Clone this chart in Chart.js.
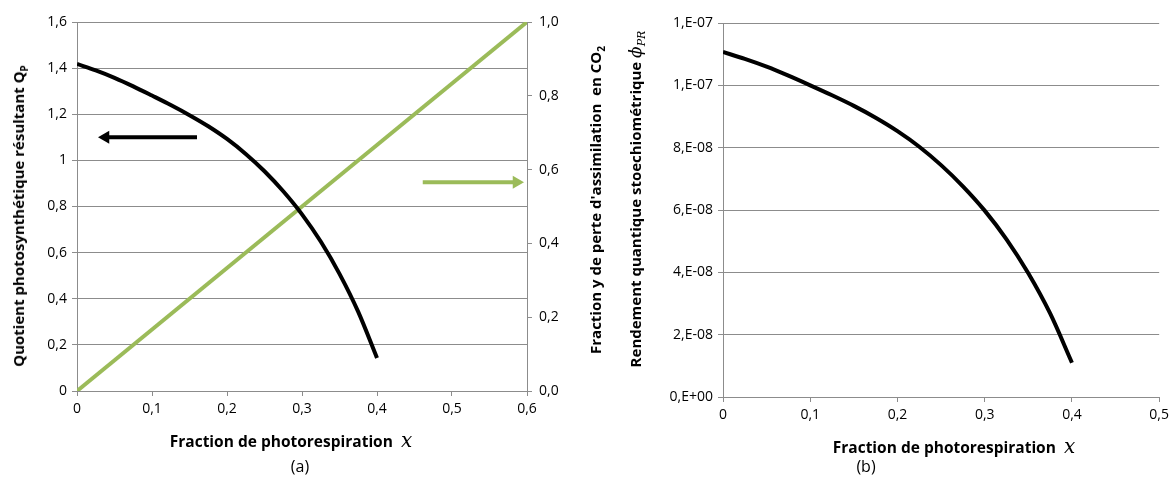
<!DOCTYPE html>
<html>
<head>
<meta charset="utf-8">
<script src="https://cdn.jsdelivr.net/npm/chart.js@4"></script>
<style>
  body { margin: 0; background: #fff; }
  #page { position: relative; width: 1174px; height: 502px; font-family: "Open Sans", sans-serif; }
  canvas { position: absolute; top: 0; }
  #chartA { left: 0; }
  #chartB { left: 615px; }
  .rot { position: absolute; font-weight: bold; font-size: 15px; color: #000; white-space: nowrap; line-height: 20px;
         transform: translate(-50%, -50%) rotate(-90deg); }
  .sub { font-size: 10px; position: relative; top: 4px; }
  .phi { font-family: "DejaVu Serif", serif; font-style: italic; font-weight: normal; font-size: 17px; }
  .phisub { font-family: "DejaVu Serif", serif; font-style: italic; font-weight: normal; font-size: 11px; position: relative; top: 4px; }
  .cap { position: absolute; font-size: 16px; color: #000; transform: translateX(-50%); }
</style>
</head>
<body>
<div id="page">
  <canvas id="chartA" width="615" height="475"></canvas>
  <canvas id="chartB" width="559" height="475"></canvas>
  <div class="rot" style="left:19px; top:216px;">Quotient photosynthétique résultant Q<span class="sub">P</span></div>
  <div class="rot" style="left:596px; top:200px;">Fraction y de perte d'assimilation&nbsp; en CO<span class="sub">2</span></div>
  <div class="rot" style="left:636px; top:199px;">Rendement quantique stoechiométrique <span class="phi">ϕ</span><span class="phisub">PR</span></div>
  <div class="cap" style="left:300px; top:455px;">(a)</div>
  <div class="cap" style="left:866px; top:455px;">(b)</div>
</div>
<script>
// Data
const fractionX = [0, 0.025, 0.05, 0.075, 0.1, 0.125, 0.15, 0.175, 0.2, 0.225, 0.25, 0.275, 0.3, 0.325, 0.35, 0.375, 0.4];
const quotientQp = [1.418, 1.390, 1.358, 1.321, 1.281, 1.240, 1.196, 1.148, 1.093, 1.028, 0.953, 0.866, 0.766, 0.648, 0.508, 0.343, 0.143];
const rendementPhi = [1.107e-7, 1.085e-7, 1.06e-7, 1.031e-7, 1.0e-7, 9.68e-8, 9.34e-8, 8.96e-8, 8.53e-8, 8.03e-8,
                      7.44e-8, 6.76e-8, 5.98e-8, 5.06e-8, 3.97e-8, 2.68e-8, 1.1e-8];
const lossX = [0, 0.6];
const lossY = [0, 1.0];
const blackArrowX = [0.16, 0.038];
const blackArrowY = [1.1, 1.1];
const greenArrowX = [0.461, 0.586];
const greenArrowY = [0.566, 0.566];

// Tick labels
const xLabelsA = ['0', '0,1', '0,2', '0,3', '0,4', '0,5', '0,6'];
const xLabelsB = ['0', '0,1', '0,2', '0,3', '0,4', '0,5'];
const yLabelsA = ['0', '0,2', '0,4', '0,6', '0,8', '1', '1,2', '1,4', '1,6'];
const y1LabelsA = ['0,0', '0,2', '0,4', '0,6', '0,8', '1,0'];
const yLabelsB = ['0,E+00', '2,E-08', '4,E-08', '6,E-08', '8,E-08', '1,E-07', '1,E-07'];

const GRID = '#8c8c8c';
const GREEN = '#9bbb59';
const FONT = '"Open Sans", sans-serif';
const TICKFONT = { family: FONT, size: 14 };

function pts(xs, ys) {
  return xs.map((x, i) => ({ x: x, y: ys[i] }));
}

// draws the x axis title with an italic serif x at the end
const xTitlePlugin = {
  id: 'xTitle',
  afterDraw(chart, args, opts) {
    const ctx = chart.ctx;
    const mainFont = 'bold 15.5px ' + FONT;
    const xFont = 'italic 20px "DejaVu Serif", "Liberation Serif", serif';
    ctx.save();
    ctx.fillStyle = '#000';
    ctx.textBaseline = 'middle';
    ctx.textAlign = 'left';
    ctx.font = mainFont;
    const w1 = ctx.measureText(opts.text).width;
    ctx.font = xFont;
    const w2 = ctx.measureText('x').width;
    const left = opts.cx - (w1 + w2) / 2;
    ctx.font = mainFont;
    ctx.fillText(opts.text, left, opts.cy);
    ctx.font = xFont;
    ctx.fillText('x', left + w1, opts.cy - 1);
    ctx.restore();
  }
};

// Chart (a)
new Chart(document.getElementById('chartA'), {
  type: 'line',
  plugins: [xTitlePlugin],
  data: {
    datasets: [{
      data: pts(fractionX, quotientQp),
      yAxisID: 'y',
      borderColor: '#000',
      borderWidth: 4,
      pointRadius: 0,
      cubicInterpolationMode: 'monotone',
    }, {
      data: pts(lossX, lossY),
      yAxisID: 'y1',
      borderColor: GREEN,
      borderWidth: 4,
      pointRadius: 0,
    }, {
      data: pts(blackArrowX, blackArrowY),
      yAxisID: 'y',
      borderColor: '#000',
      backgroundColor: '#000',
      borderWidth: 4,
      pointStyle: 'triangle',
      pointRadius: [0, 7.5],
      pointBorderWidth: 0,
      pointRotation: [0, -90],
    }, {
      data: pts(greenArrowX, greenArrowY),
      yAxisID: 'y1',
      borderColor: GREEN,
      backgroundColor: GREEN,
      borderWidth: 4,
      pointStyle: 'triangle',
      pointRadius: [0, 7.5],
      pointBorderWidth: 0,
      pointRotation: [0, 90],
    }]
  },
  options: {
    responsive: false,
    animation: false,
    layout: { padding: { top: 22, left: 0, right: 0, bottom: 0 } },
    plugins: {
      legend: { display: false },
      tooltip: { enabled: false },
      xTitle: { text: 'Fraction de photorespiration  ', cx: 291, cy: 443 },
    },
    scales: {
      x: {
        type: 'linear',
        min: 0, max: 0.6,
        ticks: { stepSize: 0.1, color: '#000', font: TICKFONT, padding: 5,
                 callback: (v, i) => xLabelsA[i] },
        grid: { drawOnChartArea: false, color: GRID, tickLength: 5 },
        border: { color: GRID },
        afterFit: (s) => { s.height = 84; },
      },
      y: {
        position: 'left',
        min: 0, max: 1.6,
        ticks: { stepSize: 0.2, color: '#000', font: TICKFONT, padding: 5,
                 callback: (v, i) => yLabelsA[i] },
        grid: { color: GRID, tickLength: 5 },
        border: { color: GRID },
        afterFit: (s) => { s.width = 77; },
      },
      y1: {
        position: 'right',
        min: 0, max: 1.0,
        ticks: { stepSize: 0.2, color: '#000', font: TICKFONT, padding: 7,
                 callback: (v, i) => y1LabelsA[i] },
        grid: { drawOnChartArea: false, color: GRID, tickLength: 5 },
        border: { color: GRID },
        afterFit: (s) => { s.width = 88; },
      },
    },
  },
});

// Chart (b)
new Chart(document.getElementById('chartB'), {
  type: 'line',
  plugins: [xTitlePlugin],
  data: {
    datasets: [{
      data: pts(fractionX, rendementPhi),
      borderColor: '#000',
      borderWidth: 4,
      pointRadius: 0,
      cubicInterpolationMode: 'monotone',
    }]
  },
  options: {
    responsive: false,
    animation: false,
    layout: { padding: { top: 23, left: 0, right: 13, bottom: 0 } },
    plugins: {
      legend: { display: false },
      tooltip: { enabled: false },
      xTitle: { text: 'Fraction de photorespiration  ', cx: 339, cy: 449 },
    },
    scales: {
      x: {
        type: 'linear',
        min: 0, max: 0.5,
        ticks: { stepSize: 0.1, color: '#000', font: TICKFONT, padding: 5,
                 callback: (v, i) => xLabelsB[i] },
        grid: { drawOnChartArea: false, color: GRID, tickLength: 5 },
        border: { color: GRID },
        afterFit: (s) => { s.height = 78; },
      },
      y: {
        min: 0, max: 1.2e-7,
        ticks: { stepSize: 2e-8, color: '#000', font: TICKFONT, padding: 5,
                 callback: (v, i) => yLabelsB[i] },
        grid: { color: GRID, tickLength: 5 },
        border: { color: GRID },
        afterFit: (s) => { s.width = 108; },
      },
    },
  },
});
</script>
</body>
</html>
